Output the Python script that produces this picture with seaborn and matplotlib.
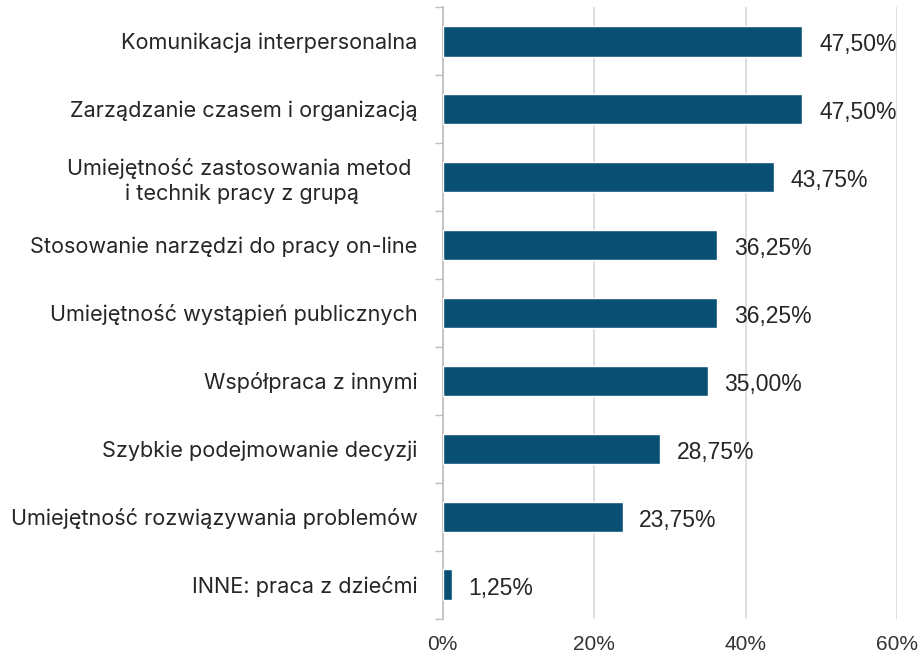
import seaborn as sns
import matplotlib.pyplot as plt
import pandas as pd
import numpy as np

sns.set_theme(style="white")
plt.rcParams['font.family'] = ['Inter', 'DejaVu Sans']

categories = [
    "Komunikacja interpersonalna",
    "Zarządzanie czasem i organizacją",
    "Umiejętność zastosowania metod \ni technik pracy z grupą",
    "Stosowanie narzędzi do pracy on-line",
    "Umiejętność wystąpień publicznych",
    "Współpraca z innymi",
    "Szybkie podejmowanie decyzji",
    "Umiejętność rozwiązywania problemów",
    "INNE: praca z dziećmi",
]
values = [47.50, 47.50, 43.75, 36.25, 36.25, 35.00, 28.75, 23.75, 1.25]
xticks = [0, 20, 40, 60]

df = pd.DataFrame({"kategoria": categories, "procent": values})

fig = plt.figure(figsize=(9.24, 6.61), dpi=100)
ax = fig.add_axes([0.479, 0.064, 0.492, 0.925])

sns.barplot(data=df, y="kategoria", x="procent", orient="h", color="#0a5075",
            width=0.45, saturation=1, ax=ax, zorder=3)

ax.set_xlim(0, 60)
ax.set_ylim(len(categories) - 0.5, -0.5)
ax.set_xticks(xticks)
ax.set_xticklabels([f"{t}%" for t in xticks], fontsize=15, color="#333333",
                   family=['Liberation Sans'])
ax.tick_params(axis="x", length=0, pad=12)
ax.set_xlabel("")
ax.set_ylabel("")
ax.grid(axis="x", color="#d9d9d9", linewidth=1.2, zorder=0)

# category labels
ax.set_yticks(range(len(categories)))
ax.set_yticklabels(categories, fontsize=15.6, color="#262626", linespacing=1.25,
                   multialignment="center")
ax.tick_params(axis="y", length=0, pad=18)
# boundary ticks on the y axis
ax.set_yticks(np.arange(-0.5, len(categories), 1), minor=True)
ax.tick_params(axis="y", which="minor", length=6, color="#bfbfbf", width=1, left=True)

for s in ["top", "right", "bottom"]:
    ax.spines[s].set_visible(False)
ax.spines["left"].set_color("#bfbfbf")

# value labels
for i, v in enumerate(values):
    ax.text(v + 2.2, i + 0.05, f"{v:.2f}%".replace(".", ","), va="center", ha="left",
            fontsize=16.5, color="#262626", family=['Liberation Sans'])

fig.savefig("out.png", dpi=100)
